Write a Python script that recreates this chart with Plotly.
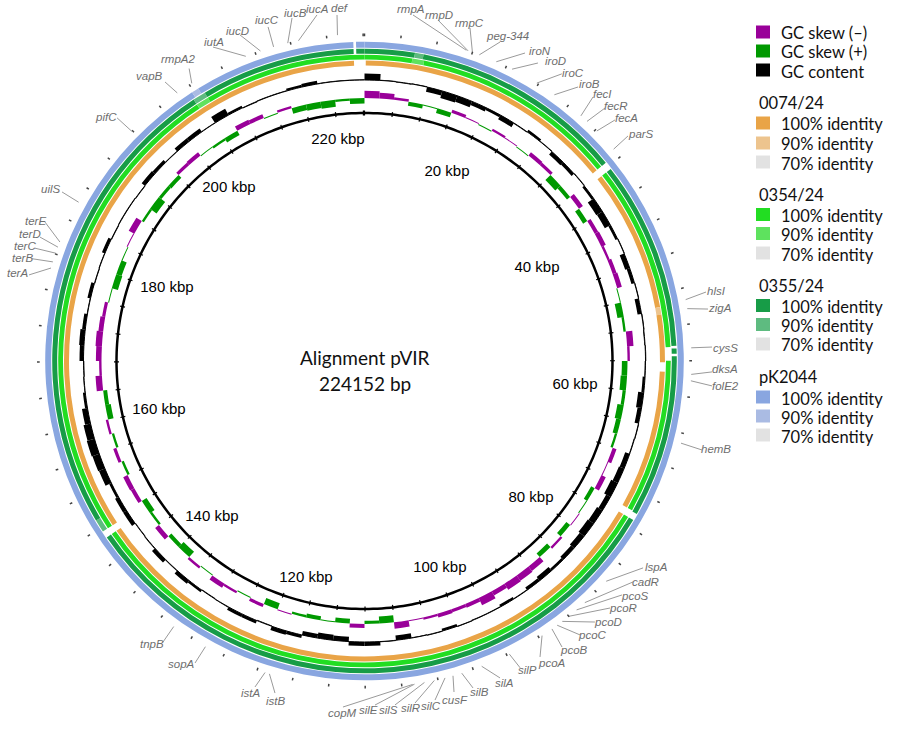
import math
import plotly.graph_objects as go

# ---------------- data ----------------
GENOME_BP = 224152
REF_NAME = "Alignment pVIR"

# GC content deviation per 2-kbp window (+ = outward), 112 windows
gc_content = [
    0.8, 0.1, -0.1, 0.1, -0.6, -0.9, -0.8, -0.5, -0.3, -0.6,
    -0.2, 0.3, 0.2, -0.5, -0.4, 0.2, -0.3, -0.9, -0.8, -0.3,
    0.1, -0.6, -0.4, 0.1, -0.5, 0.1, -0.2, 0.0, -0.2, -0.3,
    -0.7, -0.5, 0.1, -0.2, -0.6, -0.7, -0.9, -0.6, -0.8, -0.9,
    -0.7, -0.5, -0.3, -0.6, -0.4, -0.2, -0.3, -0.1, -0.2, 0.0,
    -0.3, 0.0, -0.2, -0.6, 0.2, 0.5, 0.5, -0.6, -0.7, -0.5,
    0.4, 0.5, -0.2, 0.4, 0.4, 0.0, -0.1, 0.3, 0.5, 0.1,
    0.5, 0.0, -0.2, 0.5, 0.5, 0.3, 0.8, 0.9, 1.0, 0.9,
    0.7, 0.3, 0.0, -0.2, 0.5, 0.6, 0.4, 0.0, 0.4, -0.1,
    0.0, 0.4, -0.2, 0.0, 0.1, -0.2, 0.5, 0.4, 0.0, 0.5,
    0.5, 0.2, 0.9, 0.3, -0.1, 0.2, 0.1, 0.3, 0.4, 0.2,
    0.0, 0.1,
]

# GC skew per 2-kbp window (negative = purple, positive = green)
gc_skew = [
    -0.9, -0.7, -0.3, 0.5, 0.2, 0.6, -0.4, -0.2, 0.2, -0.3,
    -0.2, 0.1, -0.5, -0.4, 0.9, 0.5, -0.6, 0.6, -0.5, -0.6,
    -0.3, -0.5, -0.6, 0.2, 0.8, 0.3, -0.8, -0.3, 0.7, 0.8,
    0.4, 0.8, 0.6, 0.3, -0.5, -0.2, -0.6, 0.5, 0.2, -0.2,
    0.6, -0.3, 0.6, -0.7, -0.8, -0.9, -0.6, -1.0, -0.5, -0.4,
    -0.5, -0.3, -0.2, -0.8, 0.9, 0.4, -0.5, 0.6, 0.2, 0.5,
    0.3, -0.2, 0.8, -0.4, 0.2, -0.3, -0.6, 0.2, -0.3, 0.9,
    0.5, -0.6, 0.3, 0.7, -0.5, -0.6, 0.3, -0.4, 0.3, -0.3,
    0.7, 0.5, -0.8, -0.3, -0.7, -0.8, -0.6, -0.4, 0.2, 0.8,
    0.7, 0.2, -0.2, -0.8, 0.3, 1.0, 0.4, 0.5, -0.4, -0.5,
    0.2, 0.3, 0.6, -0.6, -0.5, 0.2, -0.3, 0.7, 0.8, 0.9,
    0.3, 0.7,
]

# BLAST identity segments (kbp) for each compared genome
s0074_start = [0.15, 32.4, 49.6, 50.5, 57.3, 75.1, 147.5]
s0074_end = [31.5, 49.6, 50.5, 56.2, 74.2, 146.7, 222.9]
s0074_ident = [100, 100, 90, 100, 100, 100, 100]

s0354_start = [0.0, 5.6, 7.0, 32.4, 56.0, 75.1, 147.5, 203.5, 205.0]
s0354_end = [5.6, 7.0, 31.5, 54.4, 74.2, 146.7, 203.5, 205.0, 224.152]
s0354_ident = [100, 90, 100, 100, 100, 100, 100, 90, 100]

s0355_start = [0.0, 5.8, 6.8, 32.4, 54.6, 55.5, 75.1, 147.5, 149.0, 203.5, 205.0, 223.2]
s0355_end = [5.8, 6.8, 31.5, 54.3, 55.2, 74.3, 146.7, 149.0, 203.5, 205.0, 222.9, 224.152]
s0355_ident = [100, 90, 100, 100, 100, 100, 100, 90, 100, 90, 100, 100]

sK2044_start = [0.0, 203.8, 204.6, 223.2]
sK2044_end = [203.8, 204.6, 222.9, 224.152]
sK2044_ident = [100, 90, 100, 100]

scale_labels_kbp = [20, 40, 60, 80, 100, 120, 140, 160, 180, 200, 220]
minor_tick_kbp = 4

gene_names = [
    "def", "iucA", "iucB", "iucC", "iucD", "iutA", "rmpA2", "vapB", "pifC", "uilS",
    "terE", "terD", "terC", "terB", "terA",
    "rmpA", "rmpD", "rmpC", "peg-344", "iroN", "iroD", "iroC", "iroB", "fecI", "fecR",
    "fecA", "parS",
    "hlsI", "zigA", "cysS", "dksA", "folE2", "hemB",
    "lspA", "cadR", "pcoS", "pcoR", "pcoD", "pcoC", "pcoB", "pcoA",
    "silP", "silA", "silB", "cusF", "silC", "silR", "silS", "silE", "copM",
    "istB", "istA", "sopA", "tnpB",
]
gene_kbp = [
    221.2, 216.9, 215.7, 214.1, 212.6, 210.9, 204.3, 202.4, 195.9, 186.2,
    181.4, 180.8, 180.1, 179.1, 178.4,
    11.3, 11.5, 12.0, 12.8, 14.8, 16.7, 19.8, 22.1, 25.8, 26.7,
    28.2, 30.9,
    49.3, 50.3, 54.6, 57.5, 58.2, 65.1,
    82.4, 85.7, 86.9, 88.0, 88.9, 89.6, 90.3, 91.6,
    95.7, 99.0, 101.3, 102.3, 103.2, 104.4, 105.5, 106.6, 106.8,
    122.6, 123.1, 130.2, 134.3,
]

# ---------------- label layout (polar: degrees clockwise from top, px radius) ----
scale_label_ang = [23.6, 61.67, 96.5, 129.45, 160.0, 195.1, 224.35, 256.6, 290.3, 321.9, -6.84]
scale_label_r = [206.2, 196.0, 211.9, 215.6, 220.3, 224.7, 218.2, 211.3, 210.6, 219.7, 222.6]

label_text_ang = [
    -4.05, -7.6, -11.3, -15.9, -21.05, -25.3, -31.7, -36.97, -46.65, -61.25,
    -66.95, -69.2, -71.3, -73.2, -75.7,
    7.45, 12.23, 17.23, 23.75, 29.52, 32.42, 35.8, 39.03, 41.7, 44.6,
    47.15, 50.6,
    78.74, 81.5, 87.86, 91.27, 93.97, 104.05,
    125.3, 128.2, 130.98, 133.75, 137.04, 140.24, 144.0, 148.1,
    152.19, 156.43, 160.79, 165.05, 169.1, 172.53, 176.07, 179.34, 183.58,
    194.6, 198.87, 211.13, 216.9,
]
label_text_r = [
    353.9, 355.1, 354.4, 354.5, 353.6, 352.7, 355.0, 356.7, 355.5, 357.6,
    357.5, 358.3, 358.0, 357.3, 357.6,
    355.0, 354.0, 354.4, 355.0, 356.2, 355.4, 355.7, 356.6, 357.7, 358.2,
    358.0, 357.7,
    358.4, 359.4, 360.8, 360.6, 361.4, 362.3,
    357.2, 357.5, 358.3, 357.2, 356.6, 356.5, 357.2, 355.7,
    349.4, 351.3, 351.0, 350.9, 351.4, 350.0, 349.8, 349.0, 352.7,
    351.3, 350.9, 354.0, 353.9,
]
line_end_ang = [
    -4.54, -7.82, -11.93, -16.1, -20.9, -25.76, -30.95, -35.56, -45.5, -60.8,
    -66.5, -69.1, -71.1, -72.9, -75.6,
    7.98, 12.16, 17.58, 23.02, 27.53, 30.2, 34.5, 37.93, 40.88, 43.55,
    46.1, 49.5,
    78.58, 81.4, 87.7, 91.8, 94.1, 104.77,
    126.6, 129.46, 132.26, 135.17, 138.56, 141.8, 145.37, 149.33,
    153.1, 156.85, 161.64, 164.87, 168.25, 171.6, 174.93, 178.25, 183.56,
    195.09, 198.57, 209.3, 215.64,
]
line_end_r = [
    347.1, 349.3, 350.6, 347.7, 349.0, 348.6, 341.0, 343.0, 346.9, 346.5,
    348.4, 347.4, 348.3, 347.8, 346.3,
    349.4, 348.8, 349.3, 346.6, 347.3, 344.8, 348.4, 347.4, 349.2, 349.0,
    347.6, 346.5,
    348.4, 347.4, 347.8, 347.7, 348.4, 349.0,
    347.0, 347.7, 347.9, 348.3, 348.2, 348.6, 347.6, 344.1,
    344.1, 344.7, 344.5, 342.9, 346.3, 345.7, 345.3, 344.2, 346.7,
    343.9, 343.9, 346.3, 345.8,
]

# ---------------- geometry / style ----------------
W, H = 900, 729
CX, CY = 364.5, 361.0
RMAX = 330.0

R_BACKBONE = 248.0
R_SKEW = 263.0
R_GC = 281.0
AMP = 8.0
RINGS = [
    ("0074/24", s0074_start, s0074_end, s0074_ident, 295.5, 300.5,
     {100: "#E9A447", 90: "#EDC48E", 70: "#E2E2E2"}),
    ("0354/24", s0354_start, s0354_end, s0354_ident, 301.5, 306.3,
     {100: "#22DD22", 90: "#5EE25E", 70: "#E2E2E2"}),
    ("0355/24", s0355_start, s0355_end, s0355_ident, 307.3, 312.3,
     {100: "#179C47", 90: "#5EBB80", 70: "#E2E2E2"}),
    ("pK2044", sK2044_start, sK2044_end, sK2044_ident, 313.3, 319.3,
     {100: "#89A6E0", 90: "#AABBE3", 70: "#E2E2E2"}),
]
PURPLE = "#990099"
GREEN = "#009900"
TEXT_FONT = "Lato, Open Sans, sans-serif"
ARIAL = "Liberation Sans, Arial, sans-serif"


def deg(kbp):
    return kbp * 1000.0 / GENOME_BP * 360.0


def to_px(ang_deg, r):
    a = math.radians(ang_deg)
    return CX + r * math.sin(a), CY - r * math.cos(a)


fig = go.Figure()

# identity rings
for name, st, en, idt, r0, r1, cols in RINGS:
    fig.add_trace(go.Barpolar(
        theta=[deg((a + b) / 2) for a, b in zip(st, en)],
        width=[deg(b - a) for a, b in zip(st, en)],
        base=[r0] * len(st), r=[r1 - r0] * len(st),
        marker=dict(color=[cols[i] for i in idt], line=dict(width=0)),
        hoverinfo="skip", subplot="polar"))


def window_bars(values, baseline, sign, pos_col, neg_col, minthick):
    n = len(values)
    w = 360.0 / n
    th, base, rr, cc = [], [], [], []
    for i, v in enumerate(values):
        d = sign * v * AMP
        if abs(v) <= 0.2:
            d = minthick if d >= 0 else -minthick
        th.append((i + 0.5) * w)
        base.append(baseline + min(0.0, d))
        rr.append(abs(d))
        cc.append(pos_col if v >= 0 else neg_col)
    return go.Barpolar(theta=th, width=[w] * n, base=base, r=rr,
                       marker=dict(color=cc, line=dict(width=0)),
                       hoverinfo="skip", subplot="polar")


# GC content
fig.add_trace(go.Scatterpolar(r=[R_GC] * 361, theta=list(range(361)), mode="lines",
                              line=dict(color="black", width=1), hoverinfo="skip",
                              subplot="polar"))
fig.add_trace(window_bars(gc_content, R_GC, 1, "black", "black", 0.8))
# GC skew (negative drawn outward in purple, positive inward in green)
fig.add_trace(window_bars(gc_skew, R_SKEW, -1, GREEN, PURPLE, 1.0))

# backbone circle
fig.add_trace(go.Scatterpolar(r=[R_BACKBONE] * 361, theta=list(range(361)), mode="lines",
                              line=dict(color="black", width=2.5), hoverinfo="skip",
                              subplot="polar"))

# tick marks (backbone and outer ruler)
tick_pos = list(range(0, int(GENOME_BP / 1000) + 1, minor_tick_kbp))
tr, tt, orr, ott = [], [], [], []
for k in tick_pos:
    a = deg(k)
    tr += [245.5, 250.5, None]
    tt += [a, a, None]
    orr += [324.8, 327.5, None]
    ott += [a, a, None]
fig.add_trace(go.Scatterpolar(r=tr, theta=tt, mode="lines",
                              line=dict(color="black", width=1.2), hoverinfo="skip",
                              subplot="polar"))
fig.add_trace(go.Scatterpolar(r=orr, theta=ott, mode="lines",
                              line=dict(color="#444444", width=1.5), hoverinfo="skip",
                              subplot="polar"))

# scale labels
fig.add_trace(go.Scatterpolar(r=scale_label_r, theta=scale_label_ang,
                              text=[f"{k} kbp" for k in scale_labels_kbp], mode="text",
                              textposition="middle center",
                              textfont=dict(family=ARIAL, size=15, color="black"),
                              hoverinfo="skip", subplot="polar"))

# gene leader lines on a pixel overlay
lx, ly = [], []
for k, ea, er in zip(gene_kbp, line_end_ang, line_end_r):
    x0, y0 = to_px(deg(k), 327.0)
    x1, y1 = to_px(ea, er)
    lx += [x0, x1, None]
    ly += [y0, y1, None]
fig.add_trace(go.Scatter(x=lx, y=ly, mode="lines", line=dict(color="#9a9a9a", width=1),
                         hoverinfo="skip", xaxis="x", yaxis="y"))

annotations = []
for name, ta, trr in zip(gene_names, label_text_ang, label_text_r):
    x, y = to_px(ta, trr)
    annotations.append(dict(x=x, y=y, xref="x", yref="y", text=f"<i>{name}</i>",
                            showarrow=False, xanchor="center", yanchor="middle",
                            font=dict(family=ARIAL, size=11.5, color="#6e6e6e")))

# centre title
annotations.append(dict(x=CX / W, y=1 - 357 / H, xref="paper", yref="paper", text=REF_NAME,
                        showarrow=False, font=dict(family=TEXT_FONT, size=19, color="#111111")))
annotations.append(dict(x=CX / W, y=1 - 383 / H, xref="paper", yref="paper",
                        text=f"{GENOME_BP} bp", showarrow=False,
                        font=dict(family=TEXT_FONT, size=19, color="#111111")))

# legend
shapes = []
legend_items = [
    ("GC skew (\u2013)", PURPLE, 32),
    ("GC skew (+)", GREEN, 51),
    ("GC content", "black", 70),
]
heading_y = [103, 195, 286, 377]
item_y = [[123, 143, 162], [214.5, 233.5, 253], [305.5, 324.5, 344], [397, 416, 435]]
for (name, st, en, idt, r0, r1, cols), hy, iys in zip(RINGS, heading_y, item_y):
    annotations.append(dict(x=757 / W, y=1 - hy / H, xref="paper", yref="paper", text=name,
                            showarrow=False, xanchor="left", yanchor="middle",
                            font=dict(family=TEXT_FONT, size=16.5, color="#111111")))
    for lvl, yy in zip([100, 90, 70], iys):
        legend_items.append((f"{lvl}% identity", cols[lvl], yy))
for txt, col, yy in legend_items:
    shapes.append(dict(type="rect", xref="paper", yref="paper",
                       x0=756 / W, x1=770 / W, y0=1 - (yy + 6.5) / H, y1=1 - (yy - 6.5) / H,
                       fillcolor=col, line=dict(width=0)))
    annotations.append(dict(x=779 / W, y=1 - (yy + 1.5) / H, xref="paper", yref="paper",
                            text=txt, showarrow=False, xanchor="left", yanchor="middle",
                            font=dict(family=TEXT_FONT, size=16.5, color="#111111")))

fig.update_layout(
    width=W, height=H, margin=dict(l=0, r=0, t=0, b=0),
    paper_bgcolor="white", plot_bgcolor="rgba(0,0,0,0)", showlegend=False,
    polar=dict(
        domain=dict(x=[(CX - RMAX) / W, (CX + RMAX) / W],
                    y=[(H - CY - RMAX) / H, (H - CY + RMAX) / H]),
        bgcolor="rgba(0,0,0,0)", bargap=0,
        radialaxis=dict(range=[0, RMAX], visible=False),
        angularaxis=dict(rotation=90, direction="clockwise", visible=False,
                         showgrid=False, ticks=""),
    ),
    xaxis=dict(range=[0, W], visible=False, domain=[0, 1], fixedrange=True),
    yaxis=dict(range=[H, 0], visible=False, domain=[0, 1], fixedrange=True),
    annotations=annotations, shapes=shapes,
)

fig.write_html(
    "out.html",
    config={"displayModeBar": False},
    post_script="document.body.style.margin='0';document.body.style.overflow='hidden';",
)
